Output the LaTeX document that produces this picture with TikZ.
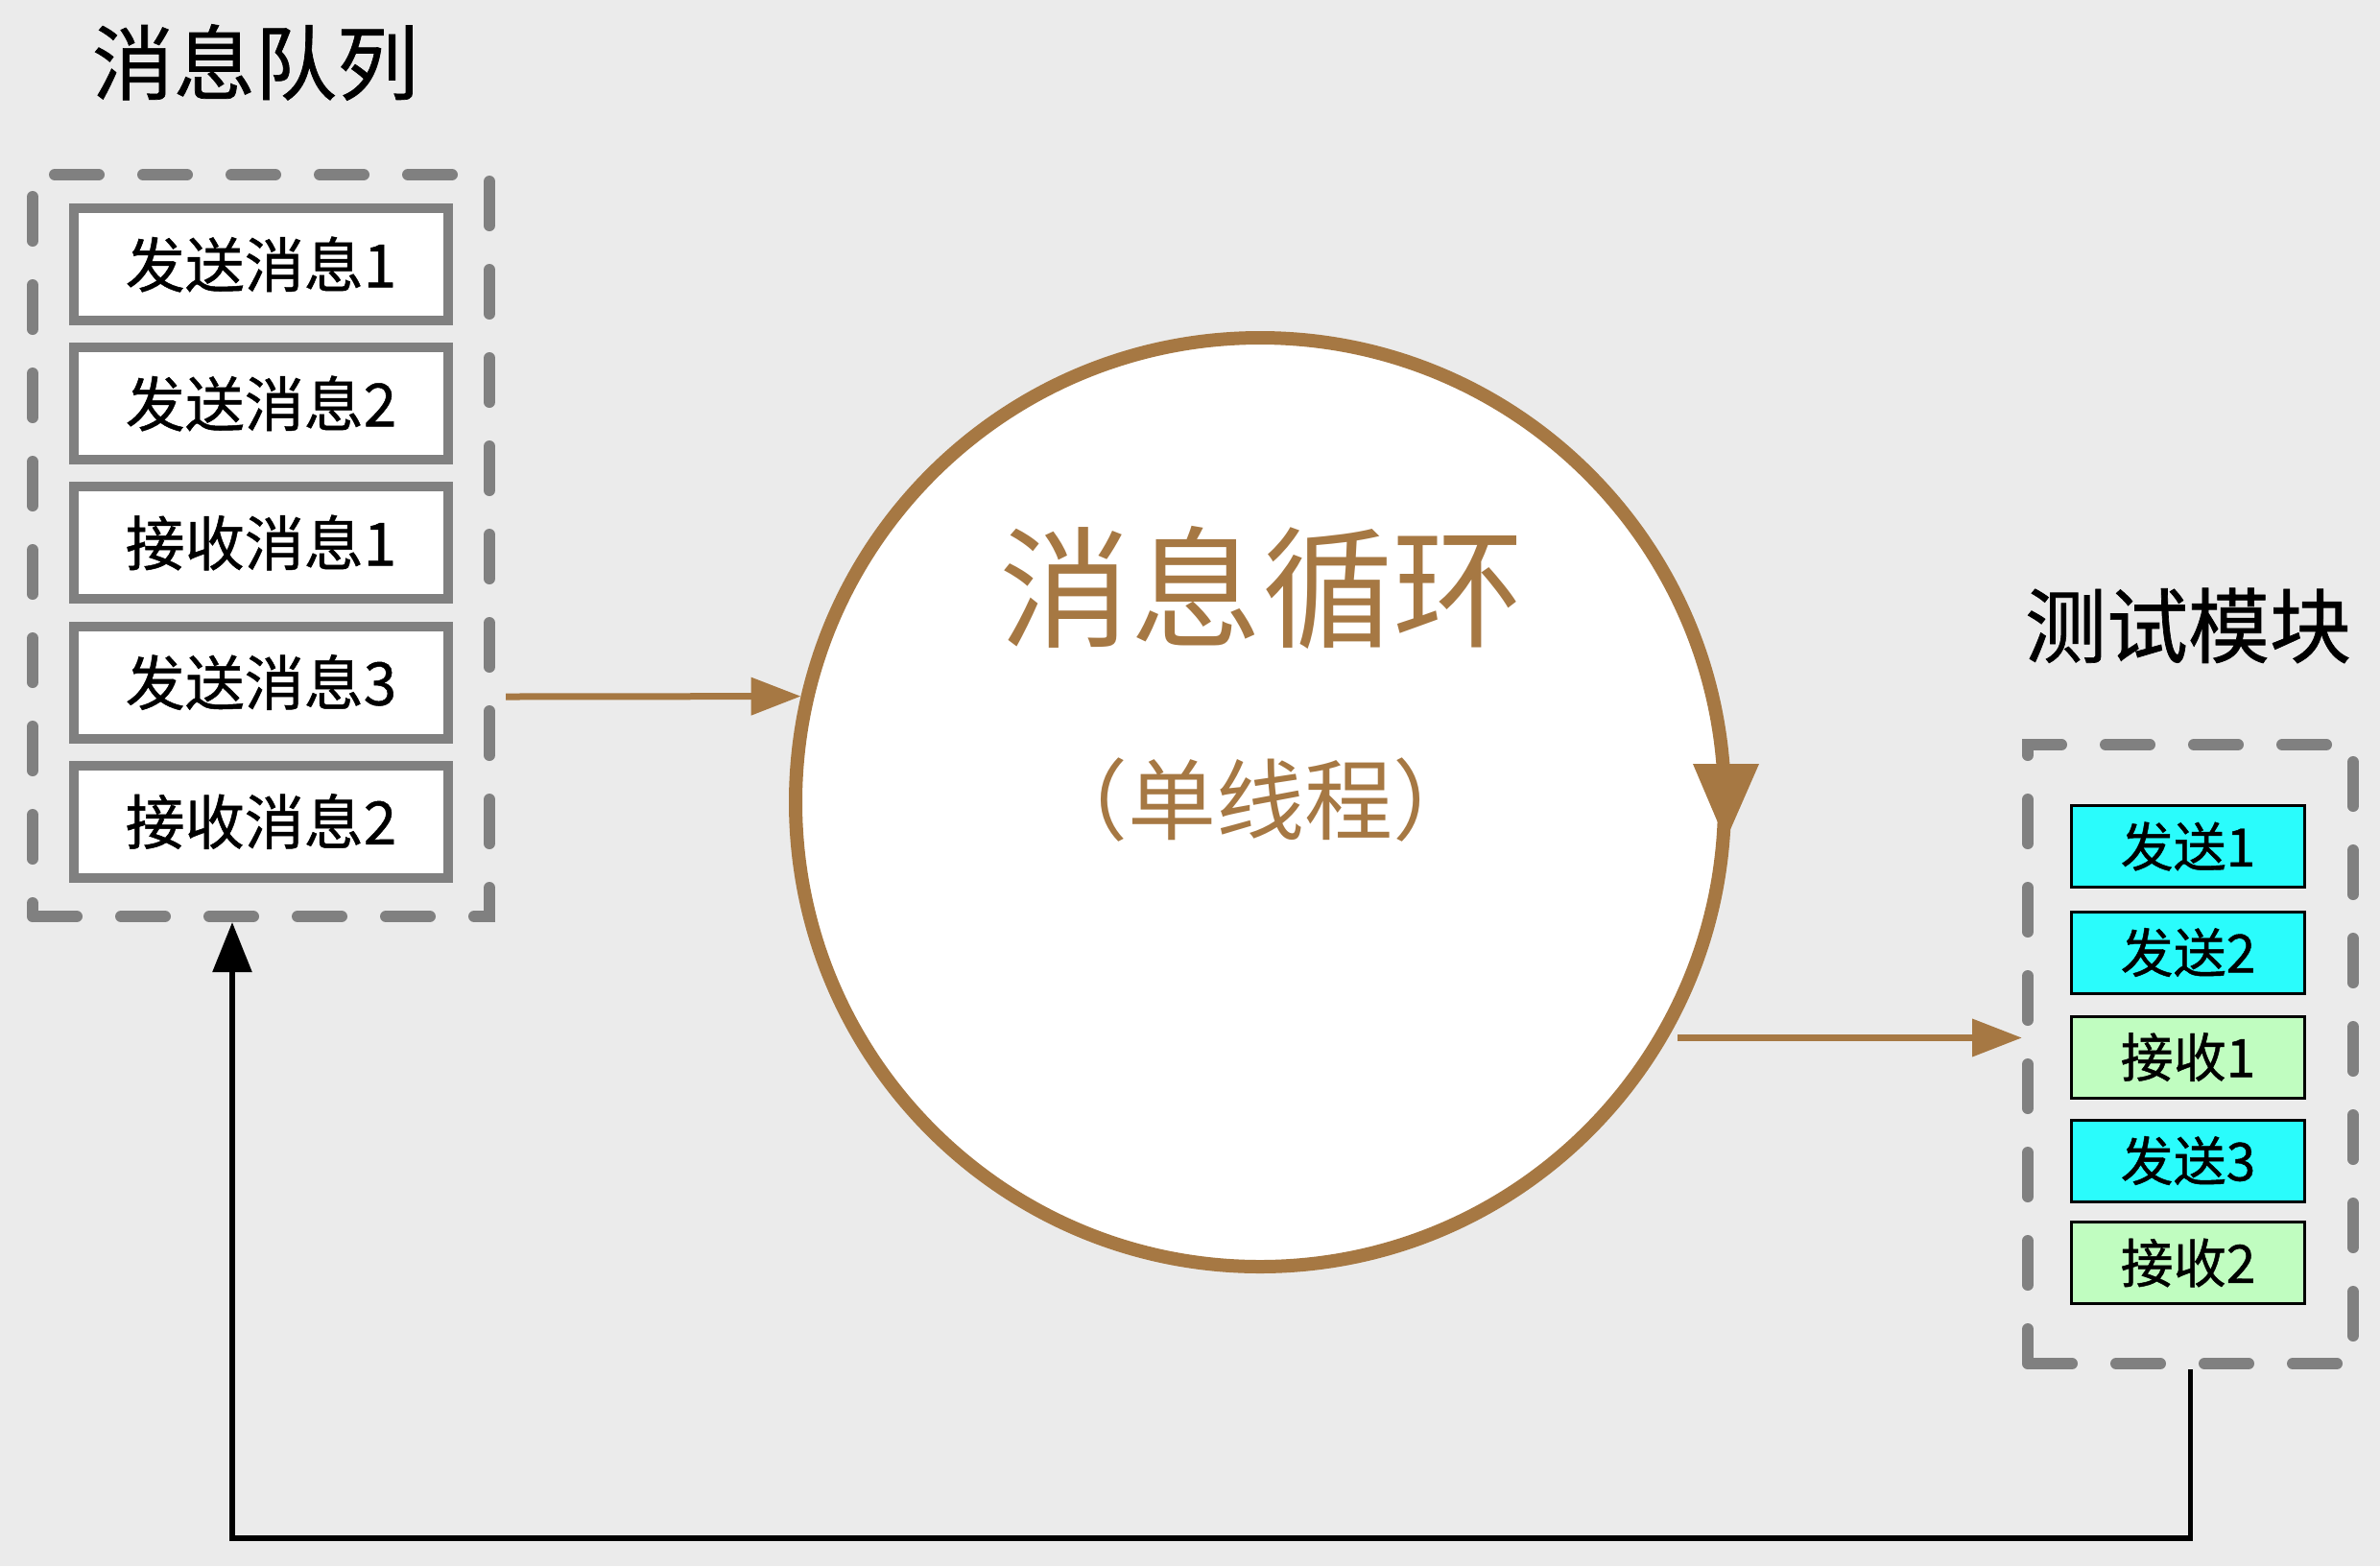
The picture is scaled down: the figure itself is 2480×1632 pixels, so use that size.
\documentclass[tikz,border=0pt]{standalone}
\usepackage{fontspec}
\setmainfont{Noto Sans CJK SC}
\newfontfamily\labelfont{Noto Sans CJK SC}[FakeBold=0.8]
\usetikzlibrary{arrows.meta,calc}
\definecolor{bg}{HTML}{EBEBEB}
\definecolor{loopbrown}{HTML}{A67843}
\definecolor{framegray}{HTML}{808080}
\definecolor{sendcyan}{HTML}{2AFCFC}
\definecolor{recvgreen}{HTML}{C0FDC0}

\begin{document}
\begin{tikzpicture}[x=0.3pt,y=-0.3pt,
  title/.style={font=\labelfont\fontsize{25.5pt}{30pt}\selectfont, text=black},
  group/.style={draw=framegray, line width=3.6pt, dash pattern=on 13.8pt off 13.8pt, line cap=round, inner sep=0pt},
  qitem/.style={draw=framegray, fill=white, line width=3pt, minimum width=117pt, minimum height=35.1pt, inner sep=0pt, font=\labelfont\fontsize{18.6pt}{22pt}\selectfont},
  titem/.style={draw=black, line width=0.9pt, minimum width=72.9pt, minimum height=25.5pt, inner sep=0pt, font=\labelfont\fontsize{16.5pt}{20pt}\selectfont},
  send/.style={titem, fill=sendcyan},
  recv/.style={titem, fill=recvgreen},
  flow/.style={draw=loopbrown, line width=2.1pt, -{Triangle[length=15.6pt,width=11.4pt]}},
  back/.style={draw=black, line width=1.7pt, -{Triangle[length=15.6pt,width=12pt]}}
]
\fill[bg] (0,0) rectangle (2480,1632);
\useasboundingbox (0,0) rectangle (2480,1632);

% message queue
\node[title] (qtitle) at (266,65) {消息队列};
\node[group, minimum width=142.8pt, minimum height=231.9pt] (qbox) at (272,568.5) {};
\node[qitem] (q1) at (272,275.5) {发送消息1};
\node[qitem] (q2) at (272,420.5) {发送消息2};
\node[qitem] (q3) at (272,565.5) {接收消息1};
\node[qitem] (q4) at (272,711) {发送消息3};
\node[qitem] (q5) at (272,856) {接收消息2};

% message loop
\node[circle, draw=loopbrown, fill=white, line width=4.2pt, minimum size=290.4pt, inner sep=0pt] (loop) at (1313,836) {};
\node[font=\fontsize{41pt}{48pt}\selectfont, text=loopbrown] (looptitle) at (1315,612) {消息循环};
\node[font=\fontsize{27.6pt}{32pt}\selectfont, text=loopbrown] (loopsub) at (1313,834) {（单线程）};
\fill[loopbrown] ($(loop.center)+(451,-40)$) -- ($(loop.center)+(520,-40)$) -- ($(loop.center)+(485,40)$) -- cycle;

% test module
\node[title] (ttitle) at (2280,652) {测试模块};
\node[group, minimum width=101.7pt, minimum height=193.5pt] (tbox) at (2282.5,1098.5) {};
\node[send] (t1) at (2280,882) {发送1};
\node[send] (t2) at (2280,992.5) {发送2};
\node[recv] (t3) at (2280,1101.5) {接收1};
\node[send] (t4) at (2280,1209.5) {发送3};
\node[recv] (t5) at (2280,1316) {接收2};

% connectors
\coordinate (qout) at (527,726);
\draw[flow] (qout) -- (loop.167);
\coordinate (lout) at ([xshift=3pt]loop.-30);
\draw[flow] (lout) -- (lout -| tbox.west);
\coordinate (fb) at (242,1603);
\draw[back] (tbox.south) |- (fb) -- (fb |- qbox.south);
\end{tikzpicture}
\end{document}
